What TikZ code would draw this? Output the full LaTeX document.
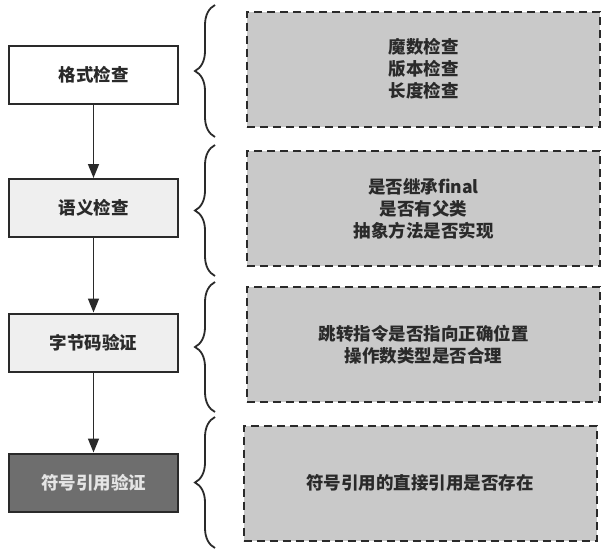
\documentclass[tikz,border=0pt]{standalone}
\usepackage{fontspec}
\newfontfamily\cjk{Noto Sans CJK SC}
\usetikzlibrary{arrows.meta,decorations.pathreplacing}
\definecolor{ink}{HTML}{2A2A2A}
\definecolor{lightbox}{HTML}{EFEFEF}
\definecolor{darkbox}{HTML}{6E6E6E}
\definecolor{notefill}{HTML}{C9C9C9}
\tikzset{
  stagebox/.style={draw=ink, line width=2pt, minimum width=169pt, minimum height=58pt,
    inner sep=0pt, font=\cjk\bfseries\fontsize{17.5}{21}\selectfont, text=ink},
  notebox/.style={draw=ink, fill=notefill, line width=2pt, dash pattern=on 8pt off 5pt,
    minimum width=353pt, minimum height=115pt, inner sep=0pt, align=center,
    font=\cjk\bfseries\fontsize{17.5}{22}\selectfont, text=ink},
  flow/.style={draw=ink, line width=1.5pt, -{Triangle[length=14pt,width=11pt]}},
  bracket/.style={draw=ink, line width=1.8pt, decorate,
    decoration={brace, amplitude=20pt, aspect=0.5}}
}
\begin{document}
\begin{tikzpicture}[x=1pt,y=-1pt]
\useasboundingbox (0,0) rectangle (610,552);
% stage boxes
\node[stagebox, fill=white]     (s1) at (93.5,75)  {格式检查};
\node[stagebox, fill=lightbox]  (s2) at (93.5,208) {语义检查};
\node[stagebox, fill=lightbox]  (s3) at (93.5,342.5) {字节码验证};
\node[stagebox, fill=darkbox, text=white!90!black] (s4) at (93.5,482.5) {符号引用验证};
% arrows
\draw[flow] (s1.south) -- (s2.north);
\draw[flow] (s2.south) -- (s3.north);
\draw[flow] (s3.south) -- (s4.north);
% note boxes
\node[notebox] (n1) at (423.5,69)  {魔数检查\\版本检查\\长度检查};
\node[notebox] (n2) at (423.5,208.5) {是否继承final\\是否有父类\\抽象方法是否实现};
\node[notebox] (n3) at (423.5,344.5) {跳转指令是否指向正确位置\\操作数类型是否合理};
\node[notebox] (n4) at (420,483) {符号引用的直接引用是否存在};
% braces
\coordinate (b1a) at (215,137); \coordinate (b1b) at (215,5);
\coordinate (b2a) at (215,276); \coordinate (b2b) at (215,145);
\coordinate (b3a) at (215,412); \coordinate (b3b) at (215,282);
\coordinate (b4a) at (215,548); \coordinate (b4b) at (215,417);
\draw[bracket] (b1a) -- (b1b);
\draw[bracket] (b2a) -- (b2b);
\draw[bracket] (b3a) -- (b3b);
\draw[bracket] (b4a) -- (b4b);
\end{tikzpicture}
\end{document}
